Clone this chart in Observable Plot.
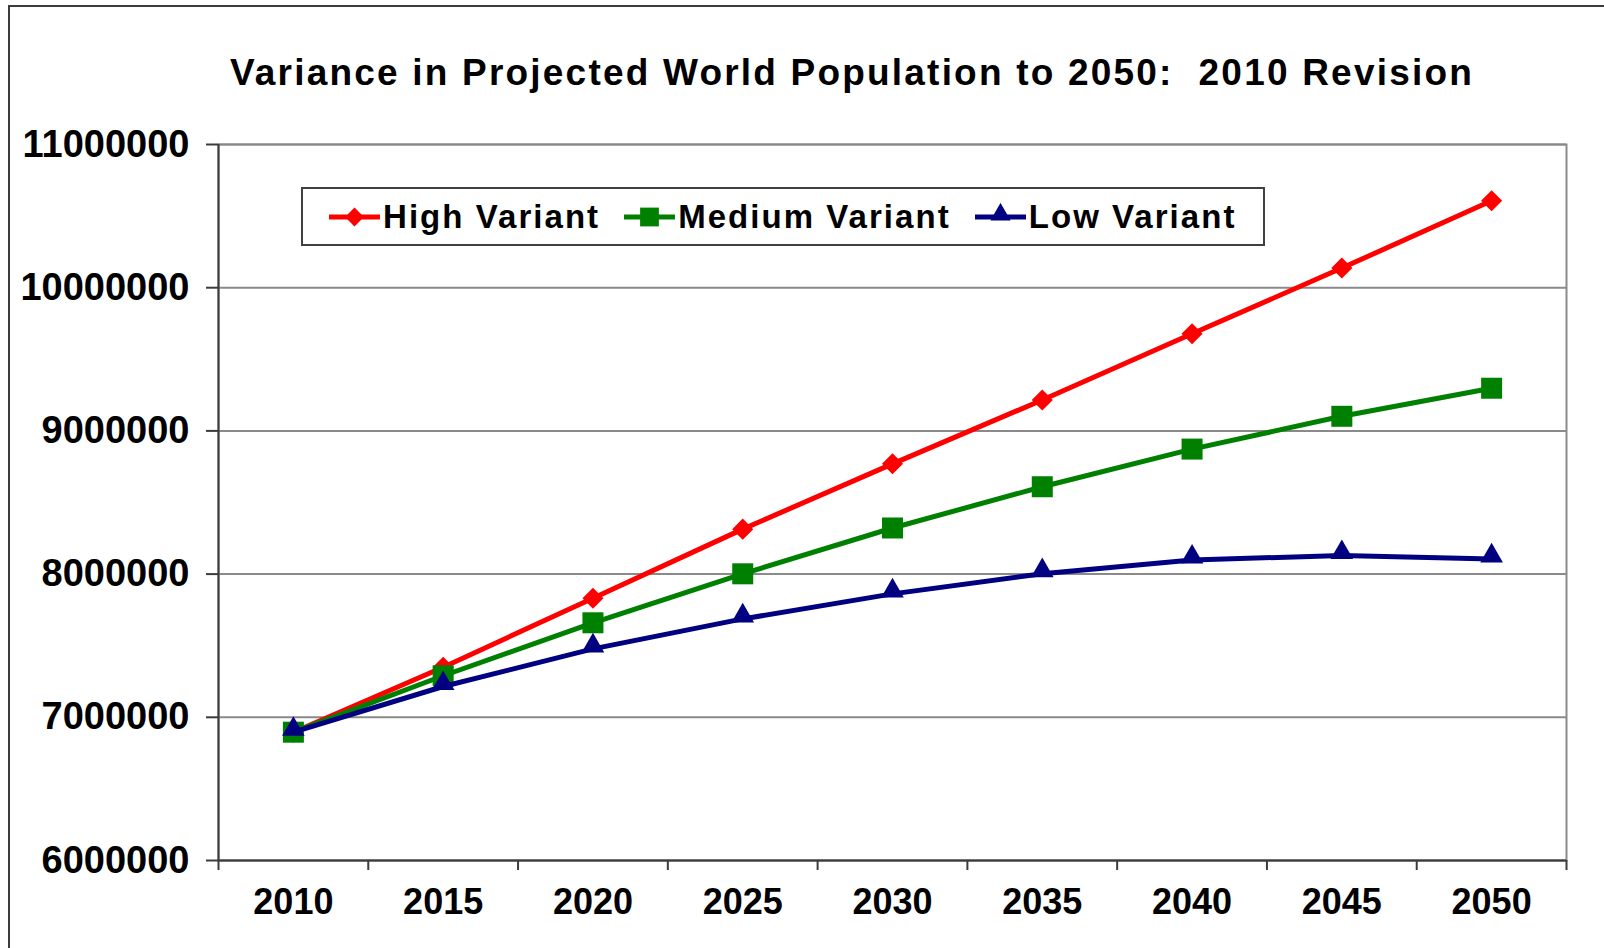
<!DOCTYPE html>
<html>
<head>
<meta charset="utf-8">
<script src="https://cdn.jsdelivr.net/npm/d3@7"></script>
<script src="https://cdn.jsdelivr.net/npm/@observablehq/plot@0.6"></script>
<style>
  body { margin: 0; background: #fff; }
  #chart { position: relative; width: 1604px; height: 948px; overflow: hidden; background: #fff;
           font-family: "Liberation Sans", Arial, sans-serif; color: #000; }
  #edge { position: absolute; left: 8px; top: 5px; width: 1700px; height: 1000px;
          border-top: 2px solid #3c3c3c; border-left: 2px solid #3c3c3c; }
  #title { position: absolute; top: 54px; left: 100px; width: 1504px; text-align: center;
           font-size: 37px; line-height: 37px; font-weight: bold; letter-spacing: 2.2px; white-space: pre; }
  #plot { position: absolute; top: 100px; left: 0; }
  #legend { position: absolute; left: 301px; top: 187px; width: 964px; height: 59px; box-sizing: border-box;
            border: 2px solid #404040; background: #fff; display: flex; align-items: center; padding-left: 26px; }
  .item { display: flex; align-items: center; margin-right: 24px; }
  .item svg { display: block; margin-right: 3px; }
  .item span { font-size: 33px; font-weight: bold; letter-spacing: 2.05px; white-space: nowrap; }
</style>
</head>
<body>
<div id="chart">
  <div id="edge"></div>
  <div id="title">Variance in Projected World Population to 2050:  2010 Revision</div>
  <div id="plot"></div>
  <div id="legend"></div>
</div>
<script>
// Projection years (category axis)
const years = [2010, 2015, 2020, 2025, 2030, 2035, 2040, 2045, 2050];

// World population projections, UN 2010 revision (thousands)
const highVariant   = [6896000, 7350000, 7831000, 8314000, 8770000, 9216000, 9678000, 10137000, 10607000];
const mediumVariant = [6896000, 7290000, 7660000, 8002000, 8322000, 8610000, 8873000, 9102000, 9298000];
const lowVariant    = [6896000, 7215000, 7478000, 7687000, 7862000, 8003000, 8098000, 8130000, 8106000];

// Value axis ticks
const yTicks = [6000000, 7000000, 8000000, 9000000, 10000000, 11000000];

const seriesNames  = ["High Variant", "Medium Variant", "Low Variant"];
const seriesColors = ["#ff0000", "#008000", "#000080"];
const seriesValues = [highVariant, mediumVariant, lowVariant];

// Diamond marker: a square turned on its corner
const diamond = {
  draw(context, size) {
    const h = Math.sqrt(size / 2);
    context.moveTo(0, -h);
    context.lineTo(h, 0);
    context.lineTo(0, h);
    context.lineTo(-h, 0);
    context.closePath();
  }
};
const seriesSymbols = [diamond, d3.symbolSquare, d3.symbolTriangle];
const seriesR  = [8.4, 11.85, 8.4];
const seriesDy = [0, 0, -3];

const series = seriesNames.map((name, i) => ({
  name,
  color: seriesColors[i],
  symbol: seriesSymbols[i],
  r: seriesR[i],
  dy: seriesDy[i],
  rows: years.map((year, j) => ({year, value: seriesValues[i][j], series: name}))
}));

// Category boundaries for the tick marks between years
const step = years[1] - years[0];
const boundaries = d3.range(years.length + 1).map(i => years[0] - step / 2 + i * step);

const marks = [
  Plot.gridY(yTicks, {stroke: "#8a8a8a", strokeWidth: 2, strokeOpacity: 1}),
  Plot.frame({stroke: "#8a8a8a", strokeWidth: 2}),
  Plot.axisY(yTicks, {
    tickSize: 12, tickPadding: 17, tickFormat: d3.format("d"),
    fontSize: 38, fontWeight: "bold", fill: "#000", stroke: "#3c3c3c", strokeWidth: 2, label: null
  }),
  Plot.axisX(years, {
    tickSize: 0, tickPadding: 28, tickFormat: d => String(d),
    fontSize: 36, fontWeight: "bold", fill: "#000", label: null
  }),
  Plot.axisX(boundaries, {
    tickSize: 10, tickFormat: () => "", stroke: "#3c3c3c", strokeWidth: 2, label: null
  }),
  Plot.ruleX([boundaries[0]], {stroke: "#3c3c3c", strokeWidth: 2}),
  Plot.ruleY([yTicks[0]], {stroke: "#3c3c3c", strokeWidth: 2})
];

for (const s of series) {
  marks.push(Plot.line(s.rows, {x: "year", y: "value", stroke: s.color, strokeWidth: 5, strokeLinejoin: "round"}));
  marks.push(Plot.dot(s.rows, {x: "year", y: "value", symbol: s.symbol, r: s.r, dy: s.dy, fill: s.color, stroke: "none"}));
}

const chart = Plot.plot({
  width: 1604,
  height: 848,
  marginLeft: 218,
  marginRight: 38,
  marginTop: 44,
  marginBottom: 88,
  style: {fontFamily: "'Liberation Sans', Arial, sans-serif", background: "transparent", overflow: "visible"},
  x: {type: "linear", domain: [boundaries[0], boundaries[boundaries.length - 1]], axis: null},
  y: {type: "linear", domain: [yTicks[0], yTicks[yTicks.length - 1]], axis: null},
  marks
});
document.getElementById("plot").appendChild(chart);

// Legend with line-and-marker swatches
const legend = document.getElementById("legend");
series.forEach(s => {
  const item = document.createElement("div");
  item.className = "item";
  const size = Math.PI * s.r * s.r * 0.8;
  const path = d3.symbol().type(s.symbol).size(size)();
  const cy = 14 + s.dy * 0.8;
  item.innerHTML =
    `<svg width="51" height="28" viewBox="0 0 51 28">` +
    `<line x1="0" x2="51" y1="14" y2="14" stroke="${s.color}" stroke-width="5"/>` +
    `<path d="${path}" transform="translate(25.5,${cy})" fill="${s.color}"/></svg>` +
    `<span>${s.name}</span>`;
  legend.appendChild(item);
});
</script>
</body>
</html>
